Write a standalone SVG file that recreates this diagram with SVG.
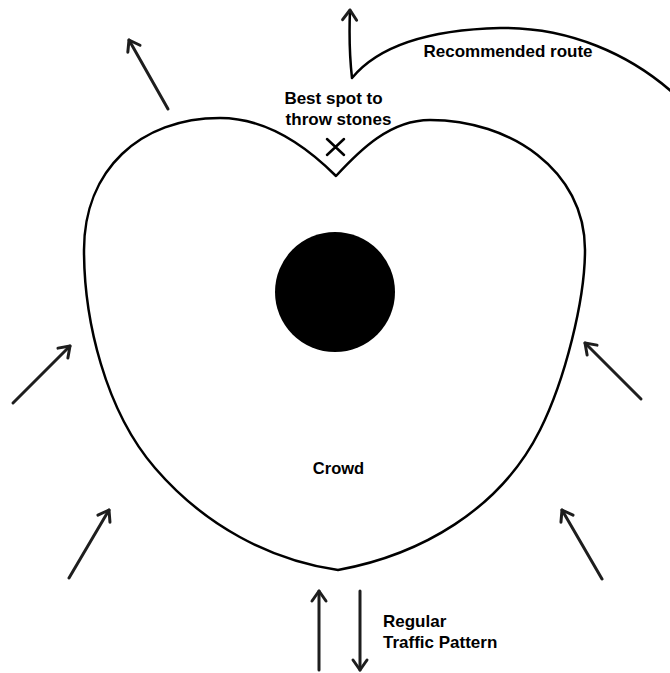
<svg xmlns="http://www.w3.org/2000/svg" width="670" height="673" viewBox="0 0 670 673">
<style>
.outline{fill:none;stroke:#000;stroke-width:2.5;stroke-linejoin:round;stroke-linecap:round}
.arrow{fill:none;stroke:#1e1e1e;stroke-width:3;stroke-linecap:round;marker-end:url(#head)}
.lbl{font-family:"Liberation Sans",Arial,sans-serif;font-weight:bold;font-size:17px;fill:#000}
</style>
<defs>
<marker id="head" markerUnits="userSpaceOnUse" viewBox="-14 -10 18 20" refX="0" refY="0" markerWidth="18" markerHeight="20" orient="auto">
<path d="M-10,-7 L0,0 L-10,7" fill="none" stroke="#1e1e1e" stroke-width="3" stroke-linecap="round" stroke-linejoin="round"/>
</marker>
</defs>
<rect width="670" height="673" fill="#fff"/>
<g id="crowd">
<path class="outline" d="M336,176 C310,150 270,118 220,118 C140,118 84,170 84,250 C84,320 105,410 155,468 C205,526 270,560 338,570 C420,555 500,510 540,430 C565,380 585,300 585,250 C585,170 510,120 430,120 C390,120 360,150 336,176 Z"/>
<text class="lbl" x="338.5" y="474" text-anchor="middle" style="font-size:16.5px">Crowd</text>
</g>
<g id="center">
<circle cx="335" cy="292" r="60" fill="#000"/>
</g>
<g id="best-spot">
<path class="outline" d="M327,139 L344,155 M344,139 L327,155" stroke-width="2.2"/>
<text class="lbl" x="333.5" y="104" text-anchor="middle">Best spot to</text>
<text class="lbl" x="338.5" y="125" text-anchor="middle">throw stones</text>
</g>
<g id="route">
<path class="outline" d="M672,92 C630,55 570,27 500,28 C420,30 375,50 352,78 C350,60 349,35 350,10" stroke="#1e1e1e" stroke-width="3" style="marker-end:url(#head)"/>
<text class="lbl" x="508" y="57" text-anchor="middle">Recommended route</text>
</g>
<g id="traffic">
<text class="lbl" x="383" y="627">Regular</text>
<text class="lbl" x="383" y="648">Traffic Pattern</text>
</g>
<g id="connectors">
<path class="arrow" d="M168,109 L129,40"/>
<path class="arrow" d="M13,403 L70,346"/>
<path class="arrow" d="M69,578 L109,510"/>
<path class="arrow" d="M641,399 L585,343"/>
<path class="arrow" d="M602,579 L562,510"/>
<path class="arrow" d="M319,670 L319,591"/>
<path class="arrow" d="M360,591 L360,670"/>
</g>
</svg>
